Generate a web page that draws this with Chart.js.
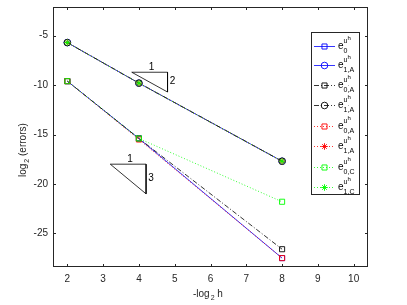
<!DOCTYPE html>
<html>
<head>
<meta charset="utf-8">
<script src="https://cdn.jsdelivr.net/npm/chart.js@4/dist/chart.umd.min.js"></script>
<style>
  html, body { margin: 0; padding: 0; background: #fff; }
  canvas { display: block; }
</style>
</head>
<body>
<canvas id="errChart" width="407" height="305"></canvas>
<script>
// -log2 h
var levels = [2, 4, 8];

// log2 of the errors, one array per curve
var e0 = [-9.6, -15.4, -27.5];
var e1A = [-5.7, -9.8, -17.7];
var e0Ahat = [-9.6, -15.4, -26.6];
var e1Ahat = [-5.7, -9.8, -17.7];
var e0A = [-9.6, -15.5, -27.5];
var e1Astar = [-5.7, -9.8, -17.7];
var e0C = [-9.6, -15.4, -21.8];
var e1C = [-5.7, -9.8, -17.7];

// slope triangles
var tri2X = [3.8, 4.8, 4.8];
var tri2Y = [-8.7, -8.7, -10.7];
var tri3X = [3.2, 4.2, 4.2];
var tri3Y = [-18, -18, -21];

var xTicks = [2, 3, 4, 5, 6, 7, 8, 9, 10];
var yTicks = [-25, -20, -15, -10, -5];

var legendSubs = ['0', '1,A', '0,A', '1,A', '0,A', '1,A', '0,C', '1,C'];

function pts(xs, ys) {
    return xs.map(function (x, i) { return { x: x, y: ys[i] }; });
}

var BLUE = '#0000ff', BLACK = '#000000', RED = '#ff0000', GREEN = '#00ff00';
var FONT = '"Liberation Sans", Arial, sans-serif';

function series(data, color, style, dash, width) {
    return {
        data: pts(levels, data),
        borderColor: color,
        backgroundColor: 'rgba(0,0,0,0)',
        borderWidth: width || 0.8,
        borderDash: dash,
        pointStyle: style,
        pointRadius: style === 'rect' ? 3.6 : 3.3,
        pointBorderColor: color,
        pointBorderWidth: 0.9,
        pointBackgroundColor: 'rgba(0,0,0,0)',
        tension: 0
    };
}

var curves = [
    series(e0, BLUE, 'rect', []),
    series(e1A, BLUE, 'circle', []),
    series(e0Ahat, BLACK, 'rect', [5, 2, 1, 2]),
    series(e1Ahat, BLACK, 'circle', [5, 2, 1, 2]),
    series(e0A, RED, 'rect', [1, 2]),
    series(e1Astar, RED, 'star', [1, 2]),
    series(e0C, GREEN, 'rect', [1, 2]),
    series(e1C, GREEN, 'star', [1, 2])
];
// later curves on top, like matlab
curves.forEach(function (d, i) { d.order = curves.length - i; });

var tris = [
    { data: pts(tri2X.concat([tri2X[0]]), tri2Y.concat([tri2Y[0]])), borderColor: '#000', borderWidth: 0.8, pointRadius: 0, tension: 0, order: 20 },
    { data: pts(tri3X.concat([tri3X[0]]), tri3Y.concat([tri3Y[0]])), borderColor: '#000', borderWidth: 0.8, pointRadius: 0, tension: 0, order: 20 }
];

function runs(ctx, parts, x, y) {
    parts.forEach(function (p) {
        ctx.font = p.size + 'px ' + FONT;
        ctx.fillText(p.t, x + (p.dx || 0), y + p.dy);
        x += ctx.measureText(p.t).width + (p.dx || 0);
    });
    return x;
}

var decor = {
    id: 'decor',
    afterDraw: function (chart) {
        var ctx = chart.ctx, a = chart.chartArea;
        var xs = chart.scales.x, ys = chart.scales.y;
        ctx.save();
        // box
        ctx.strokeStyle = '#262626';
        ctx.lineWidth = 1;
        ctx.strokeRect(Math.round(a.left) + 0.5, Math.round(a.top) + 0.5, Math.round(a.right - a.left) - 1, Math.round(a.bottom - a.top) - 1);
        // inward ticks
        ctx.beginPath();
        xTicks.forEach(function (v) {
            var px = Math.round(xs.getPixelForValue(v)) + 0.5;
            ctx.moveTo(px, a.bottom); ctx.lineTo(px, a.bottom - 3);
            ctx.moveTo(px, a.top); ctx.lineTo(px, a.top + 3);
        });
        yTicks.forEach(function (v) {
            var py = Math.round(ys.getPixelForValue(v)) + 0.5;
            ctx.moveTo(a.left, py); ctx.lineTo(a.left + 3, py);
            ctx.moveTo(a.right, py); ctx.lineTo(a.right - 3, py);
        });
        ctx.stroke();
        // tick labels
        ctx.fillStyle = '#262626';
        ctx.font = '10px ' + FONT;
        ctx.textAlign = 'center';
        ctx.textBaseline = 'middle';
        xTicks.forEach(function (v) {
            ctx.fillText(String(v), xs.getPixelForValue(v), a.bottom + 12);
        });
        ctx.textAlign = 'right';
        yTicks.forEach(function (v) {
            ctx.fillText(String(v), a.left - 5, ys.getPixelForValue(v));
        });
        // x title
        ctx.textAlign = 'left';
        ctx.textBaseline = 'alphabetic';
        runs(ctx, [{ t: '-log', size: 10, dy: 0 }, { t: '2', size: 7, dy: 3, dx: 1 }, { t: ' h', size: 10, dy: 0 }], 193, 297);
        // y title
        ctx.save();
        ctx.translate(26, 177);
        ctx.rotate(-Math.PI / 2);
        runs(ctx, [{ t: 'log', size: 10, dy: 0 }, { t: '2', size: 7, dy: 3, dx: 1 }, { t: ' (errors)', size: 10, dy: 0 }], 0, 0);
        ctx.restore();
        // triangle labels
        ctx.fillStyle = '#000';
        ctx.font = '10px ' + FONT;
        ctx.textAlign = 'center';
        ctx.textBaseline = 'middle';
        ctx.fillText('1', xs.getPixelForValue((tri2X[0] + tri2X[1]) / 2 + 0.05), ys.getPixelForValue(tri2Y[0]) - 5);
        ctx.fillText('2', xs.getPixelForValue(tri2X[1]) + 5, ys.getPixelForValue((tri2Y[1] + tri2Y[2]) / 2 + 0.1));
        ctx.fillText('1', xs.getPixelForValue((tri3X[0] + tri3X[1]) / 2 + 0.05), ys.getPixelForValue(tri3Y[0]) - 5);
        ctx.fillText('3', xs.getPixelForValue(tri3X[1]) + 5, ys.getPixelForValue((tri3Y[1] + tri3Y[2]) / 2 + 0.05));
        // legend
        var lx = 311, ly = 32, lw = 48, lh = 162;
        ctx.fillStyle = '#fff';
        ctx.fillRect(lx, ly, lw, lh);
        ctx.strokeStyle = '#262626';
        ctx.lineWidth = 1;
        ctx.strokeRect(lx + 0.5, ly + 0.5, lw, lh);
        var rowY = [46, 65, 85, 105, 126, 146, 167, 187];
        curves.forEach(function (d, i) {
            var yc = rowY[i];
            ctx.save();
            ctx.strokeStyle = d.borderColor;
            ctx.lineWidth = d.borderWidth;
            ctx.setLineDash(d.borderDash);
            ctx.beginPath();
            ctx.moveTo(314, yc + 0.5); ctx.lineTo(335, yc + 0.5);
            ctx.stroke();
            ctx.setLineDash([]);
            ctx.lineWidth = d.pointBorderWidth;
            ctx.fillStyle = 'rgba(0,0,0,0)';
            Chart.helpers.drawPoint(ctx, { pointStyle: d.pointStyle, radius: d.pointRadius, rotation: 0, borderWidth: d.pointBorderWidth }, 324.5, yc + 0.5);
            ctx.restore();
            ctx.fillStyle = '#000';
            ctx.textAlign = 'left';
            ctx.textBaseline = 'alphabetic';
            ctx.font = '10px ' + FONT;
            var x = 338;
            ctx.fillText('e', x, yc + 3);
            var ew = ctx.measureText('e').width;
            ctx.font = '7px ' + FONT;
            ctx.fillText('u', x + ew, yc - 3);
            var uw = ctx.measureText('u').width;
            ctx.font = '6px ' + FONT;
            ctx.fillText('h', x + ew + uw, yc - 6);
            if (i === 2 || i === 3) ctx.fillText('.', x + ew + uw, yc + 1);
            ctx.font = '7px ' + FONT;
            ctx.fillText(legendSubs[i], x + ew, yc + 7);
        });
        ctx.restore();
    }
};

var ctx = document.getElementById('errChart').getContext('2d');
new Chart(ctx, {
    type: 'line',
    data: { datasets: curves.concat(tris) },
    options: {
        responsive: false,
        animation: false,
        layout: { padding: { left: 53, right: 39, top: 7, bottom: 38 } },
        scales: {
            x: { type: 'linear', min: 1.6, max: 10.4, display: false },
            y: { type: 'linear', min: -28.4, max: -2.1, display: false }
        },
        plugins: {
            legend: { display: false },
            tooltip: { enabled: false }
        }
    },
    plugins: [decor]
});
</script>
</body>
</html>
